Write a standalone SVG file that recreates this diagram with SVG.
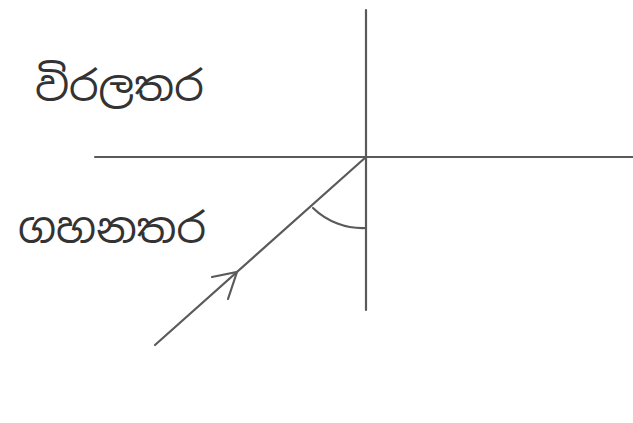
<svg xmlns="http://www.w3.org/2000/svg" width="633" height="423" viewBox="0 0 633 423">
<style>
.ln{stroke:#5a5a5a;stroke-width:2.2;fill:none;stroke-linecap:round}
.lbl{font-family:"Noto Sans Sinhala","Noto Sans","DejaVu Sans",sans-serif;font-size:42px;fill:#333}
</style>
<rect width="633" height="423" fill="#fff"/>
<g id="connectors">
<line class="ln" x1="366" y1="10" x2="366" y2="310"/>
<line class="ln" x1="95" y1="157" x2="633" y2="157"/>
<line class="ln" x1="155" y1="345" x2="366" y2="157"/>
<path class="ln" d="M212 277 L237 272 L228 299"/>
<path class="ln" d="M313 208 A71 71 0 0 0 366 228"/>
</g>
<g id="label-top"><text class="lbl" x="35" y="101">විරලතර</text></g>
<g id="label-bottom"><text class="lbl" x="18" y="243">ගහනතර</text></g>
</svg>
